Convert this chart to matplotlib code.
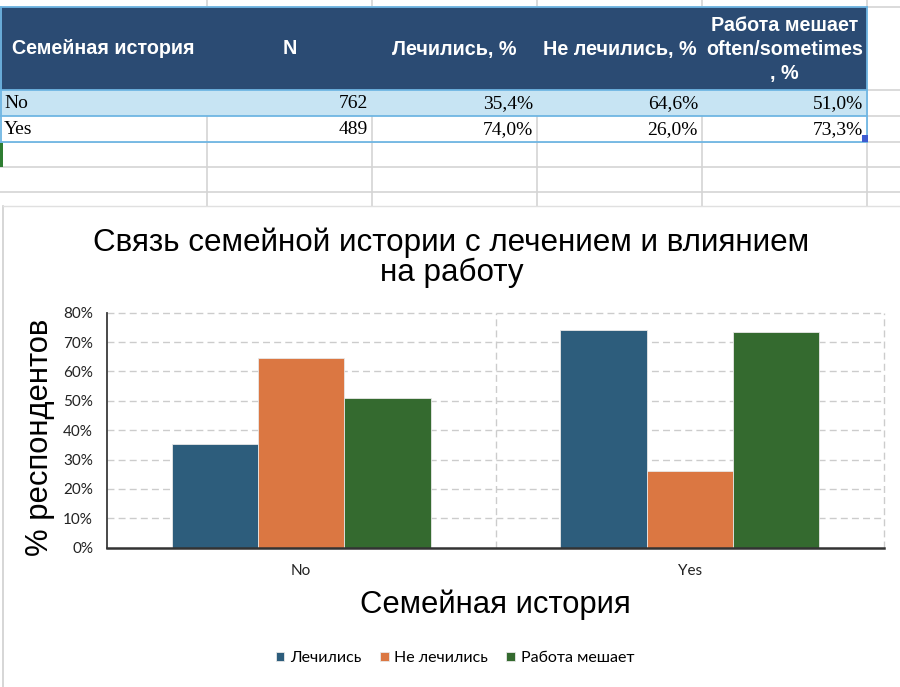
import matplotlib
matplotlib.use("Agg")
import matplotlib.pyplot as plt
import numpy as np
from matplotlib.patches import Rectangle
from matplotlib.lines import Line2D

# ---------------- data ----------------
categories = ['No', 'Yes']
n_values = [762, 489]
treated = [35.4, 74.0]
not_treated = [64.6, 26.0]
work_interferes = [51.0, 73.3]
series_labels = ['Лечились', 'Не лечились', 'Работа мешает']
table_headers = ['Семейная история', 'N', 'Лечились, %', 'Не лечились, %',
                 'Работа мешает\noften/sometimes\n, %']
chart_title = 'Связь семейной истории с лечением и влиянием\nна работу'
x_label = 'Семейная история'
y_label = '% респондентов'
y_ticks = [0, 10, 20, 30, 40, 50, 60, 70, 80]

W, H = 900, 687
fig = plt.figure(figsize=(W / 100, H / 100), dpi=100)
fig.patch.set_facecolor('white')

def fx(x):
    return x / W

def fy(y):
    return 1 - y / H

def rect(x, y, w, h, color, z=0):
    fig.add_artist(Rectangle((fx(x), fy(y + h)), w / W, h / H, transform=fig.transFigure,
                             facecolor=color, edgecolor='none', zorder=z))

def hline(y, x0, x1, color, lw=1.0, z=1):
    fig.add_artist(Line2D([fx(x0), fx(x1)], [fy(y), fy(y)], transform=fig.transFigure,
                          color=color, lw=lw, zorder=z))

def vline(x, y0, y1, color, lw=1.0, z=1):
    fig.add_artist(Line2D([fx(x), fx(x)], [fy(y0), fy(y1)], transform=fig.transFigure,
                          color=color, lw=lw, zorder=z))

grid_c = '#d4d4d4'
blue_c = '#6fb6e3'
col_x = [0, 207, 372, 537, 702, 867]
row_y = [7, 90, 116, 142, 167, 192]

# spreadsheet grid
for y in row_y:
    hline(y, 0, W, grid_c, 1.2, 1)
for x in col_x[1:]:
    vline(x, 0, 207, grid_c, 1.2, 1)

# header
rect(0, 7, 867, 83, '#2b4b73', 2)
# No row fill
rect(0, 90, 867, 26, '#c7e4f3', 2)
# Yes row white
rect(0, 116, 867, 26, 'white', 2)
for x in col_x[1:5]:
    vline(x, 116, 142, grid_c, 1.2, 3)
# table borders
for y in [7, 90, 116, 142]:
    hline(y, 0, 867, blue_c, 1.3, 4)
vline(867, 7, 142, blue_c, 1.3, 4)
vline(0.5, 7, 142, blue_c, 1.3, 4)
rect(862, 135, 6, 7, '#3d5bd1', 5)
rect(0, 143, 2.5, 24, '#2e7d32', 5)

hdr_font = dict(family=['Liberation Sans', 'DejaVu Sans'], weight='bold', size=14.2, color='white')
fig.text(fx(12), fy(49), table_headers[0], ha='left', va='center', zorder=6, **hdr_font)
centers = [(col_x[i] + col_x[i + 1]) / 2 for i in range(5)]
for i in range(1, 4):
    fig.text(fx(centers[i]), fy(49), table_headers[i], ha='center', va='center', zorder=6, **hdr_font)
fig.text(fx(centers[4]), fy(49.5), table_headers[4], ha='center', va='center', zorder=6,
         linespacing=1.35, multialignment='center', **hdr_font)

def pct(v):
    return f'{v:.1f}%'.replace('.', ',')

cell_font = dict(family=['Liberation Serif', 'DejaVu Serif'], size=14, color='black')
row_centers = [103.5, 130]
for r, cat in enumerate(categories):
    yy = fy(row_centers[r])
    fig.text(fx(4), yy, cat, ha='left', va='center', zorder=6, **cell_font)
    vals = [str(n_values[r]), pct(treated[r]), pct(not_treated[r]), pct(work_interferes[r])]
    for j, s in enumerate(vals):
        fig.text(fx(col_x[j + 2] - 4), yy, s, ha='right', va='center', zorder=6, **cell_font)

# chart area
rect(3, 206, W - 3, H - 206, 'white', 7)
vline(3, 206, H, '#cfcfcf', 1.2, 8)
hline(206, 3, W, '#e0e0e0', 1.0, 8)

# ---------------- chart ----------------
ax_l, ax_r, ax_t, ax_b = 107, 884, 312.7, 547.7
ax = fig.add_axes([fx(ax_l), fy(ax_b), (ax_r - ax_l) / W, (ax_b - ax_t) / H], zorder=9)
ax.set_facecolor('none')

series = [treated, not_treated, work_interferes]
colors = ['#2d5d7c', '#db7742', '#346a2f']
bw = 2 / 9
xpos = np.arange(len(categories))
for i, (vals, c, lab) in enumerate(zip(series, colors, series_labels)):
    ax.bar(xpos + (i - 1) * bw, vals, width=bw, color=c, edgecolor='#e8e8e8',
           linewidth=0.6, label=lab, zorder=3)

ax.set_xlim(-0.5, len(categories) - 0.5)
ax.set_ylim(0, 80)
ax.set_yticks(y_ticks)
tick_font = ['Lato', 'DejaVu Sans']
ax.set_yticklabels([f'{v}%' for v in y_ticks], fontfamily=tick_font, fontsize=11, color='#222222')
ax.set_xticks(xpos)
ax.set_xticklabels(categories, fontfamily=tick_font, fontsize=11, color='#222222')
ax.tick_params(axis='both', length=0)
ax.tick_params(axis='y', pad=10)
ax.tick_params(axis='x', pad=12)

for v in y_ticks[1:]:
    ax.axhline(v, color='#cccccc', lw=1.0, ls=(0, (5, 3)), zorder=1, clip_on=False)
for xv in [0.5, 1.5]:
    ax.axvline(xv, color='#cccccc', lw=1.0, ls=(0, (5, 3)), zorder=1, clip_on=False)

for s in ['top', 'right']:
    ax.spines[s].set_visible(False)
ax.spines['left'].set_color('#3a3a3a')
ax.spines['left'].set_linewidth(1.3)
ax.spines['bottom'].set_color('#333333')
ax.spines['bottom'].set_linewidth(1.8)
ax.spines['bottom'].set_zorder(4)

lab_font = ['Liberation Sans', 'DejaVu Sans']
ax.set_ylabel(y_label, fontfamily=lab_font, fontsize=22.3, color='black')
ax.yaxis.set_label_coords((40.5 - ax_l) / (ax_r - ax_l), 0.5 - (437 - (ax_t + ax_b) / 2) / (ax_b - ax_t))
ax.yaxis.label.set_va('center')
ax.set_xlabel(x_label, fontfamily=lab_font, fontsize=22.3, color='black')
ax.xaxis.set_label_coords(0.5, (ax_b - 605) / (ax_b - ax_t))
ax.xaxis.label.set_va('center')

fig.text(fx(451.5), fy(257.5), chart_title, ha='center', va='center', fontfamily=lab_font,
         fontsize=22.6, linespacing=1.0, zorder=10)

handles, labels = ax.get_legend_handles_labels()
leg = fig.legend(handles, labels, loc='center', bbox_to_anchor=(fx(455), fy(658)), ncol=3,
                 frameon=False, handlelength=0.55, handleheight=0.55, handletextpad=0.35,
                 columnspacing=1.15, prop={'family': tick_font, 'size': 11.5})
leg.set_zorder(10)

fig.savefig('out.png', dpi=100, facecolor='white')
